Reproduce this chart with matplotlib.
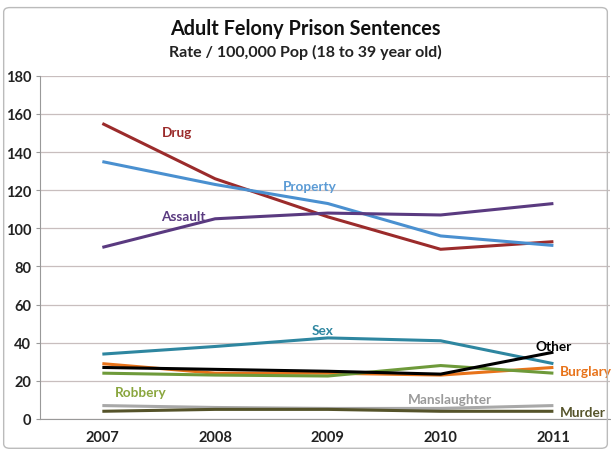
import matplotlib
matplotlib.use("Agg")
import matplotlib.pyplot as plt
from matplotlib.patches import FancyBboxPatch

years = [2007, 2008, 2009, 2010, 2011]

drug = [155, 126, 106, 89, 93]
property_ = [135, 123, 113, 96, 91]
assault = [90, 105, 108, 107, 113]
sex = [34, 38, 42.5, 41, 29]
other = [27, 26, 25, 23.5, 35]
burglary = [29, 24, 24, 23, 27]
robbery = [24, 23, 22.5, 28, 24]
manslaughter = [7, 6, 5.5, 5.5, 7]
murder = [4, 5, 5, 4, 4]

# (name, values, line colour, label colour, label x, label y, ha)
SERIES = [
    ("Drug", drug, "#9B2B2B", "#9B2B2B", 2007.66, 150.5, "center"),
    ("Property", property_, "#4A90D0", "#5B9BD5", 2008.84, 122, "center"),
    ("Assault", assault, "#5A3A80", "#5A3A80", 2007.72, 106.5, "center"),
    ("Sex", sex, "#2E86A0", "#2E86A0", 2008.95, 46.5, "center"),
    ("Burglary", burglary, "#E8731A", "#E8731A", 2011.06, 25, "left"),
    ("Robbery", robbery, "#6E9A3A", "#8AA63E", 2007.34, 14, "center"),
    ("Manslaughter", manslaughter, "#A8A8A8", "#9A9A9A", 2010.08, 10.5, "center"),
    ("Murder", murder, "#55532A", "#55532A", 2011.06, 3.5, "left"),
    ("Other", other, "#000000", "#000000", 2011.0, 38.5, "center"),
]

plt.rcParams["font.family"] = ["Lato", "DejaVu Sans"]

fig = plt.figure(figsize=(6.11, 4.52), dpi=100)
ax = fig.add_axes([0.066, 0.071, 0.932, 0.759])

for name, vals, color, lcolor, lx, ly, ha in SERIES:
    ax.plot(years, vals, color=color, linewidth=2.2, solid_capstyle="butt")
    ax.text(lx, ly, name, color=lcolor, fontsize=9.8, fontweight="bold",
            ha=ha, va="center")

ax.set_ylim(0, 180)
ax.set_xlim(2006.45, 2011.5)
ax.set_yticks(range(0, 181, 20))
ax.set_xticks(years)
ax.set_xticklabels([str(y) for y in years])
ax.tick_params(axis="both", labelsize=10.5, colors="#222222", length=3)
for lab in ax.get_xticklabels() + ax.get_yticklabels():
    lab.set_fontweight("bold")
ax.tick_params(axis="x", length=0, pad=8)
ax.tick_params(axis="y", color="#999999")
ax.yaxis.grid(True, color="#C8BEBE", linewidth=0.9)
ax.set_axisbelow(True)
for s in ["top", "right"]:
    ax.spines[s].set_visible(False)
ax.spines["left"].set_color("#999999")
ax.spines["bottom"].set_color("#999999")

fig.text(0.5, 0.935, "Adult Felony Prison Sentences", ha="center", va="center",
         fontsize=14.3, fontweight="bold", color="#111111")
fig.text(0.5, 0.885, "Rate / 100,000 Pop (18 to 39 year old)", ha="center",
         va="center", fontsize=11.5, fontweight="bold", color="#222222")

border = FancyBboxPatch((0.006, 0.006), 0.988, 0.975, boxstyle="round,pad=0,rounding_size=0.01",
                        transform=fig.transFigure, fill=False, edgecolor="#BBBBBB",
                        linewidth=1.0)
fig.patches.append(border)

fig.savefig("out.png", dpi=100)
